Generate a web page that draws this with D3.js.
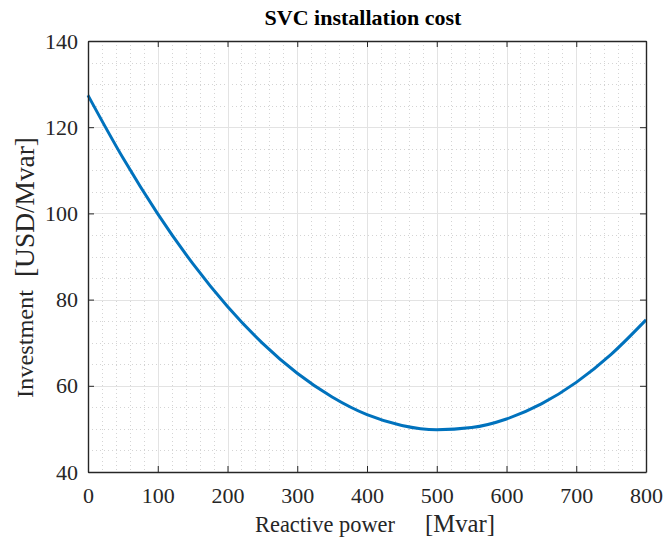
<!DOCTYPE html>
<html>
<head>
<meta charset="utf-8">
<script src="https://cdn.jsdelivr.net/npm/d3@7"></script>
<style>
  body { margin: 0; background: #fff; }
  text { font-family: "Liberation Serif", "Times New Roman", serif; }
</style>
</head>
<body>
<script>
// reactive power [Mvar] and investment [USD/Mvar]
var power = [0, 50, 100, 150, 200, 250, 300, 350, 400, 450, 500, 550, 600, 650, 700, 750, 800];
var cost = [127.4, 112.9, 99.9, 88.4, 78.4, 69.9, 62.9, 57.4, 53.3, 50.8, 49.8, 50.3, 52.3, 55.8, 60.8, 67.3, 75.3];
var xTicks = [0, 100, 200, 300, 400, 500, 600, 700, 800];
var yTicks = [40, 60, 80, 100, 120, 140];

var WIDTH = 663, HEIGHT = 540;
var LEFT = 88, TOP = 41, RIGHT = 646, BOTTOM = 472;

var svg = d3.select('body').append('svg')
    .attr('width', WIDTH)
    .attr('height', HEIGHT);

var x = d3.scaleLinear().domain([0, 800]).range([LEFT, RIGHT]);
var y = d3.scaleLinear().domain([40, 140]).range([BOTTOM, TOP]);

// minor grid
var xMinor = d3.range(0, 801, 20).filter(function(d){ return d % 100 !== 0; });
var yMinor = d3.range(40, 141, 5).filter(function(d){ return d % 20 !== 0; });

svg.selectAll('.xminor').data(xMinor).enter().append('line')
    .attr('x1', function(d){ return Math.round(x(d)) + 0.5; })
    .attr('x2', function(d){ return Math.round(x(d)) + 0.5; })
    .attr('y1', TOP).attr('y2', BOTTOM)
    .attr('stroke', '#d4d4d4').attr('stroke-width', 1)
    .attr('stroke-dasharray', '1,3');
svg.selectAll('.yminor').data(yMinor).enter().append('line')
    .attr('y1', function(d){ return Math.round(y(d)) + 0.5; })
    .attr('y2', function(d){ return Math.round(y(d)) + 0.5; })
    .attr('x1', LEFT).attr('x2', RIGHT)
    .attr('stroke', '#d4d4d4').attr('stroke-width', 1)
    .attr('stroke-dasharray', '1,3');

// major grid
svg.selectAll('.xmajor').data(xTicks).enter().append('line')
    .attr('x1', function(d){ return Math.round(x(d)) + 0.5; })
    .attr('x2', function(d){ return Math.round(x(d)) + 0.5; })
    .attr('y1', TOP).attr('y2', BOTTOM)
    .attr('stroke', '#e3e3e3').attr('stroke-width', 1);
svg.selectAll('.ymajor').data(yTicks).enter().append('line')
    .attr('y1', function(d){ return Math.round(y(d)) + 0.5; })
    .attr('y2', function(d){ return Math.round(y(d)) + 0.5; })
    .attr('x1', LEFT).attr('x2', RIGHT)
    .attr('stroke', '#e3e3e3').attr('stroke-width', 1);

// curve
var line = d3.line()
    .x(function(d, i){ return x(power[i]); })
    .y(function(d){ return y(d); })
    .curve(d3.curveMonotoneX);

svg.append('path')
    .datum(cost)
    .attr('d', line)
    .attr('fill', 'none')
    .attr('stroke', '#0072BD')
    .attr('stroke-width', 3);

// axes (ticks inward, box on)
var axisColor = '#262626';
var bottomAxis = svg.append('g')
    .attr('transform', 'translate(0,' + BOTTOM + ')')
    .call(d3.axisBottom(x).tickValues(xTicks).tickSizeInner(-6).tickSizeOuter(0).tickPadding(15));
var leftAxis = svg.append('g')
    .attr('transform', 'translate(' + LEFT + ',0)')
    .call(d3.axisLeft(y).tickValues(yTicks).tickSizeInner(-6).tickSizeOuter(0).tickPadding(10));
var topAxis = svg.append('g')
    .attr('transform', 'translate(0,' + TOP + ')')
    .call(d3.axisTop(x).tickValues(xTicks).tickSizeInner(-6).tickSizeOuter(0).tickFormat(''));
var rightAxis = svg.append('g')
    .attr('transform', 'translate(' + RIGHT + ',0)')
    .call(d3.axisRight(y).tickValues(yTicks).tickSizeInner(-6).tickSizeOuter(0).tickFormat(''));

[bottomAxis, leftAxis, topAxis, rightAxis].forEach(function(g){
    g.selectAll('path').attr('stroke', axisColor).attr('stroke-width', 1.4);
    g.selectAll('line').attr('stroke', axisColor).attr('stroke-width', 1);
    g.selectAll('text')
        .attr('fill', axisColor)
        .style('font-family', '"Liberation Serif", "Times New Roman", serif')
        .style('font-size', '22px');
});

// title
svg.append('text')
    .attr('x', 363)
    .attr('y', 25)
    .attr('text-anchor', 'middle')
    .attr('font-weight', 'bold')
    .attr('font-size', 22)
    .attr('fill', '#000')
    .text('SVC installation cost');

// x label
svg.append('text')
    .attr('x', 255)
    .attr('y', 532)
    .attr('font-size', 23)
    .attr('textLength', 140)
    .attr('lengthAdjust', 'spacingAndGlyphs')
    .attr('fill', '#262626')
    .text('Reactive power');
svg.append('text')
    .attr('x', 425)
    .attr('y', 532)
    .attr('font-size', 26)
    .attr('textLength', 70)
    .attr('lengthAdjust', 'spacingAndGlyphs')
    .attr('fill', '#262626')
    .text('[Mvar]');

// y label
svg.append('text')
    .attr('transform', 'translate(33,398) rotate(-90)')
    .attr('font-size', 24)
    .attr('textLength', 108)
    .attr('lengthAdjust', 'spacingAndGlyphs')
    .attr('fill', '#262626')
    .text('Investment');
svg.append('text')
    .attr('transform', 'translate(34,277) rotate(-90)')
    .attr('font-size', 27)
    .attr('textLength', 140)
    .attr('lengthAdjust', 'spacingAndGlyphs')
    .attr('fill', '#262626')
    .text('[USD/Mvar]');
</script>
</body>
</html>
